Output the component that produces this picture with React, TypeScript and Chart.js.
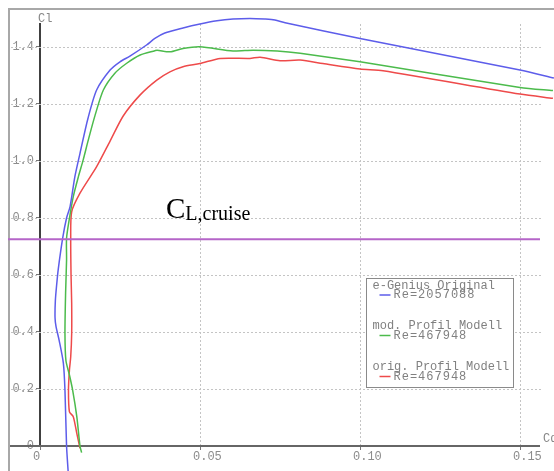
import React, { useEffect, useRef } from 'react';
import { Chart, registerables } from 'chart.js';

Chart.register(...registerables);

// ---- data (Cd, Cl) ----
const blueCd = [0.0088, 0.0083, 0.0078, 0.0073, 0.0060, 0.0050, 0.0047, 0.0048, 0.0052, 0.0057, 0.0071, 0.0083, 0.0094, 0.0109, 0.0125, 0.0150, 0.0177, 0.0219, 0.0250, 0.0281, 0.0333, 0.0359, 0.0390, 0.0447, 0.0500, 0.0553, 0.0603, 0.0656, 0.0703, 0.0734, 0.0766, 0.1000, 0.1500, 0.1606];
const blueCl = [-0.09, 0.0, 0.196, 0.291, 0.37, 0.42, 0.45, 0.51, 0.565, 0.62, 0.73, 0.80, 0.84, 0.945, 1.027, 1.150, 1.249, 1.319, 1.348, 1.368, 1.407, 1.430, 1.449, 1.467, 1.481, 1.492, 1.498, 1.500, 1.498, 1.495, 1.485, 1.430, 1.319, 1.291];

const greenCd = [0.0130, 0.0125, 0.0115, 0.0102, 0.0092, 0.0081, 0.0078, 0.0080, 0.0083, 0.0083, 0.0092, 0.0104, 0.0120, 0.0135, 0.0151, 0.0172, 0.0198, 0.0234, 0.0271, 0.0313, 0.0359, 0.0366, 0.0406, 0.0447, 0.0500, 0.0603, 0.0666, 0.0741, 0.0813, 0.1000, 0.1500, 0.1603];
const greenCl = [-0.023, 0.0, 0.103, 0.196, 0.249, 0.30, 0.396, 0.537, 0.653, 0.729, 0.799, 0.875, 0.945, 1.004, 1.074, 1.160, 1.249, 1.308, 1.343, 1.372, 1.387, 1.389, 1.383, 1.395, 1.401, 1.386, 1.389, 1.386, 1.378, 1.348, 1.258, 1.247];

const redCd = [0.0125, 0.0115, 0.0104, 0.0092, 0.0089, 0.0092, 0.0096, 0.0099, 0.0099, 0.0097, 0.0096, 0.0099, 0.0125, 0.0177, 0.0219, 0.0260, 0.0313, 0.0365, 0.0406, 0.0447, 0.0500, 0.0563, 0.0656, 0.0688, 0.0750, 0.0813, 0.0884, 0.1000, 0.1072, 0.1500, 0.1603];
const redCl = [-0.008, 0.044, 0.103, 0.120, 0.196, 0.267, 0.313, 0.395, 0.500, 0.600, 0.729, 0.822, 0.887, 0.980, 1.070, 1.158, 1.232, 1.284, 1.313, 1.331, 1.342, 1.360, 1.360, 1.364, 1.352, 1.354, 1.342, 1.323, 1.317, 1.235, 1.220];

const cruiseCl = 0.725;
const cruiseCdRange = [-0.01, 0.15625];

const xTicks = [0, 0.05, 0.1, 0.15];
const yTicks = [0, 0.2, 0.4, 0.6, 0.8, 1.0, 1.2, 1.4];

const seriesNames = ['e-Genius Original', 'mod. Profil Modell', 'orig. Profil Modell'];
const seriesRe = ['Re=2057088', 'Re=467948', 'Re=467948'];
const xAxisTitle = 'Cd';
const yAxisTitle = 'Cl';
const cruiseMain = 'C';
const cruiseSub = 'L,cruise';

// ---- styles ----
const COLORS = ['#5d5dea', '#4cbb4c', '#ee4a4a'];
const CRUISE_COLOR = '#b565c8';
const MONO = '"Liberation Mono", "DejaVu Sans Mono", monospace';
const SERIF = '"Liberation Serif", "DejaVu Serif", serif';
const W = 554;
const H = 471;

const toPts = (xs: number[], ys: number[]) => xs.map((x, i) => ({ x, y: ys[i] }));

const decor = {
  id: 'decor',
  beforeDatasetsDraw(chart: any) {
    const { ctx, chartArea, scales } = chart;
    const x = scales.x, y = scales.y;
    const y0 = y.getPixelForValue(0);
    ctx.save();
    // frame
    ctx.strokeStyle = '#a8a8a8';
    ctx.lineWidth = 2;
    ctx.beginPath();
    ctx.moveTo(9, H);
    ctx.lineTo(9, 9);
    ctx.lineTo(W, 9);
    ctx.stroke();
    // dotted grid
    ctx.strokeStyle = '#c4c4c4';
    ctx.lineWidth = 1;
    ctx.setLineDash([2, 2]);
    yTicks.filter(v => v !== 0).forEach(v => {
      const py = Math.round(y.getPixelForValue(v)) + 0.5;
      ctx.beginPath();
      ctx.moveTo(11, py);
      ctx.lineTo(chartArea.right + 2, py);
      ctx.stroke();
    });
    xTicks.filter(v => v !== 0).forEach(v => {
      const px = Math.round(x.getPixelForValue(v)) + 0.5;
      ctx.beginPath();
      ctx.moveTo(px, chartArea.top);
      ctx.lineTo(px, y0);
      ctx.stroke();
    });
    ctx.setLineDash([]);
    // x axis line (extends left of the y axis)
    ctx.strokeStyle = '#666666';
    ctx.lineWidth = 2;
    ctx.beginPath();
    ctx.moveTo(10, y0);
    ctx.lineTo(chartArea.right, y0);
    ctx.stroke();
    ctx.restore();
  },
  afterDatasetsDraw(chart: any) {
    const { ctx, chartArea, scales } = chart;
    const y = scales.y;
    const y0 = y.getPixelForValue(0);
    ctx.save();
    // axis titles
    ctx.fillStyle = '#888888';
    ctx.font = `12px ${MONO}`;
    ctx.textAlign = 'left';
    ctx.textBaseline = 'middle';
    ctx.fillText(yAxisTitle, chartArea.left - 2, 19);
    ctx.fillText(xAxisTitle, chartArea.right + 3, y0 - 7);

    // C_L,cruise annotation
    ctx.fillStyle = '#000000';
    ctx.textBaseline = 'alphabetic';
    ctx.font = `29px ${SERIF}`;
    const cx = 166;
    const cy = y.getPixelForValue(cruiseCl) - 21.5;
    ctx.fillText(cruiseMain, cx, cy);
    const cw = ctx.measureText(cruiseMain).width;
    ctx.font = `20px ${SERIF}`;
    ctx.fillText(cruiseSub, cx + cw, cy + 2.5);

    // legend box
    const lx = 366.5, ly = 278.5, lw = 147, lh = 109;
    ctx.fillStyle = '#ffffff';
    ctx.fillRect(lx, ly, lw, lh);
    ctx.strokeStyle = '#8a8a8a';
    ctx.lineWidth = 1;
    ctx.strokeRect(lx, ly, lw, lh);
    const rowsY = [[286, 295], [326, 335.5], [367, 376.5]];
    ctx.font = `12px ${MONO}`;
    ctx.textBaseline = 'middle';
    seriesNames.forEach((name, i) => {
      const [ya, yb] = rowsY[i];
      ctx.fillStyle = '#808080';
      (ctx as any).letterSpacing = '0px';
      ctx.fillText(name, lx + 6, ya);
      ctx.strokeStyle = COLORS[i];
      ctx.lineWidth = 1.5;
      ctx.beginPath();
      ctx.moveTo(lx + 13, yb);
      ctx.lineTo(lx + 24, yb);
      ctx.stroke();
      (ctx as any).letterSpacing = '1px';
      ctx.fillText(seriesRe[i], lx + 27, yb);
    });
    (ctx as any).letterSpacing = '0px';
    ctx.restore();
  },
};

export default function App() {
  const ref = useRef<HTMLCanvasElement | null>(null);
  useEffect(() => {
    if (!ref.current) return;
    const lineDs = (label: string, data: any[], color: string, width: number) => ({
      label,
      data,
      showLine: true,
      borderColor: color,
      backgroundColor: color,
      borderWidth: width,
      pointRadius: 0,
      pointHoverRadius: 0,
      tension: 0.25,
      capBezierPoints: false,
      clip: false,
      fill: false,
    });
    const chart = new Chart(ref.current, {
      type: 'scatter',
      data: {
        datasets: [
          lineDs('CL,cruise', cruiseCdRange.map(x => ({ x, y: cruiseCl })), CRUISE_COLOR, 2),
          lineDs(seriesNames[0], toPts(blueCd, blueCl), COLORS[0], 1.5),
          lineDs(seriesNames[1], toPts(greenCd, greenCl), COLORS[1], 1.5),
          lineDs(seriesNames[2], toPts(redCd, redCl), COLORS[2], 1.5),
        ],
      },
      options: {
        responsive: false,
        animation: false,
        elements: { line: { capBezierPoints: false } },
        layout: { padding: { top: 24, right: 14, left: 8, bottom: 0 } },
        plugins: { legend: { display: false }, tooltip: { enabled: false } },
        scales: {
          x: {
            type: 'linear',
            min: 0,
            max: 0.15625,
            afterFit: (s: any) => { s.height = 25; },
            afterBuildTicks: (s: any) => { s.ticks = xTicks.map(v => ({ value: v })); },
            grid: { drawOnChartArea: false, drawTicks: true, tickLength: 4, tickColor: '#777777', lineWidth: 1 },
            border: { display: false },
            ticks: {
              align: 'start',
              labelOffset: -7,
              padding: 0,
              color: '#8c8c8c',
              autoSkip: false,
              maxRotation: 0,
              font: { family: MONO, size: 12 },
              callback: (v: any) => (Number(v) === 0 ? '0' : Number(v).toFixed(2)),
            },
          },
          y: {
            type: 'linear',
            min: 0,
            max: 1.4807,
            afterFit: (s: any) => { s.width = 32; },
            afterBuildTicks: (s: any) => { s.ticks = yTicks.map(v => ({ value: v })); },
            grid: { drawOnChartArea: false, drawTicks: true, tickLength: 4, tickColor: '#777777', lineWidth: 1 },
            border: { display: true, color: '#404040', width: 2 },
            ticks: {
              padding: 2,
              color: '#8c8c8c',
              autoSkip: false,
              font: { family: MONO, size: 12 },
              callback: (v: any) => (Number(v) === 0 ? '0' : Number(v).toFixed(1)),
            },
          },
        },
      } as any,
      plugins: [decor],
    });
    return () => chart.destroy();
  }, []);
  return (
    <div style={{ position: 'fixed', left: 0, top: 0, width: W, height: H, background: '#ffffff' }}>
      <canvas ref={ref} width={W} height={H} style={{ display: 'block', width: W, height: H }} />
    </div>
  );
}
